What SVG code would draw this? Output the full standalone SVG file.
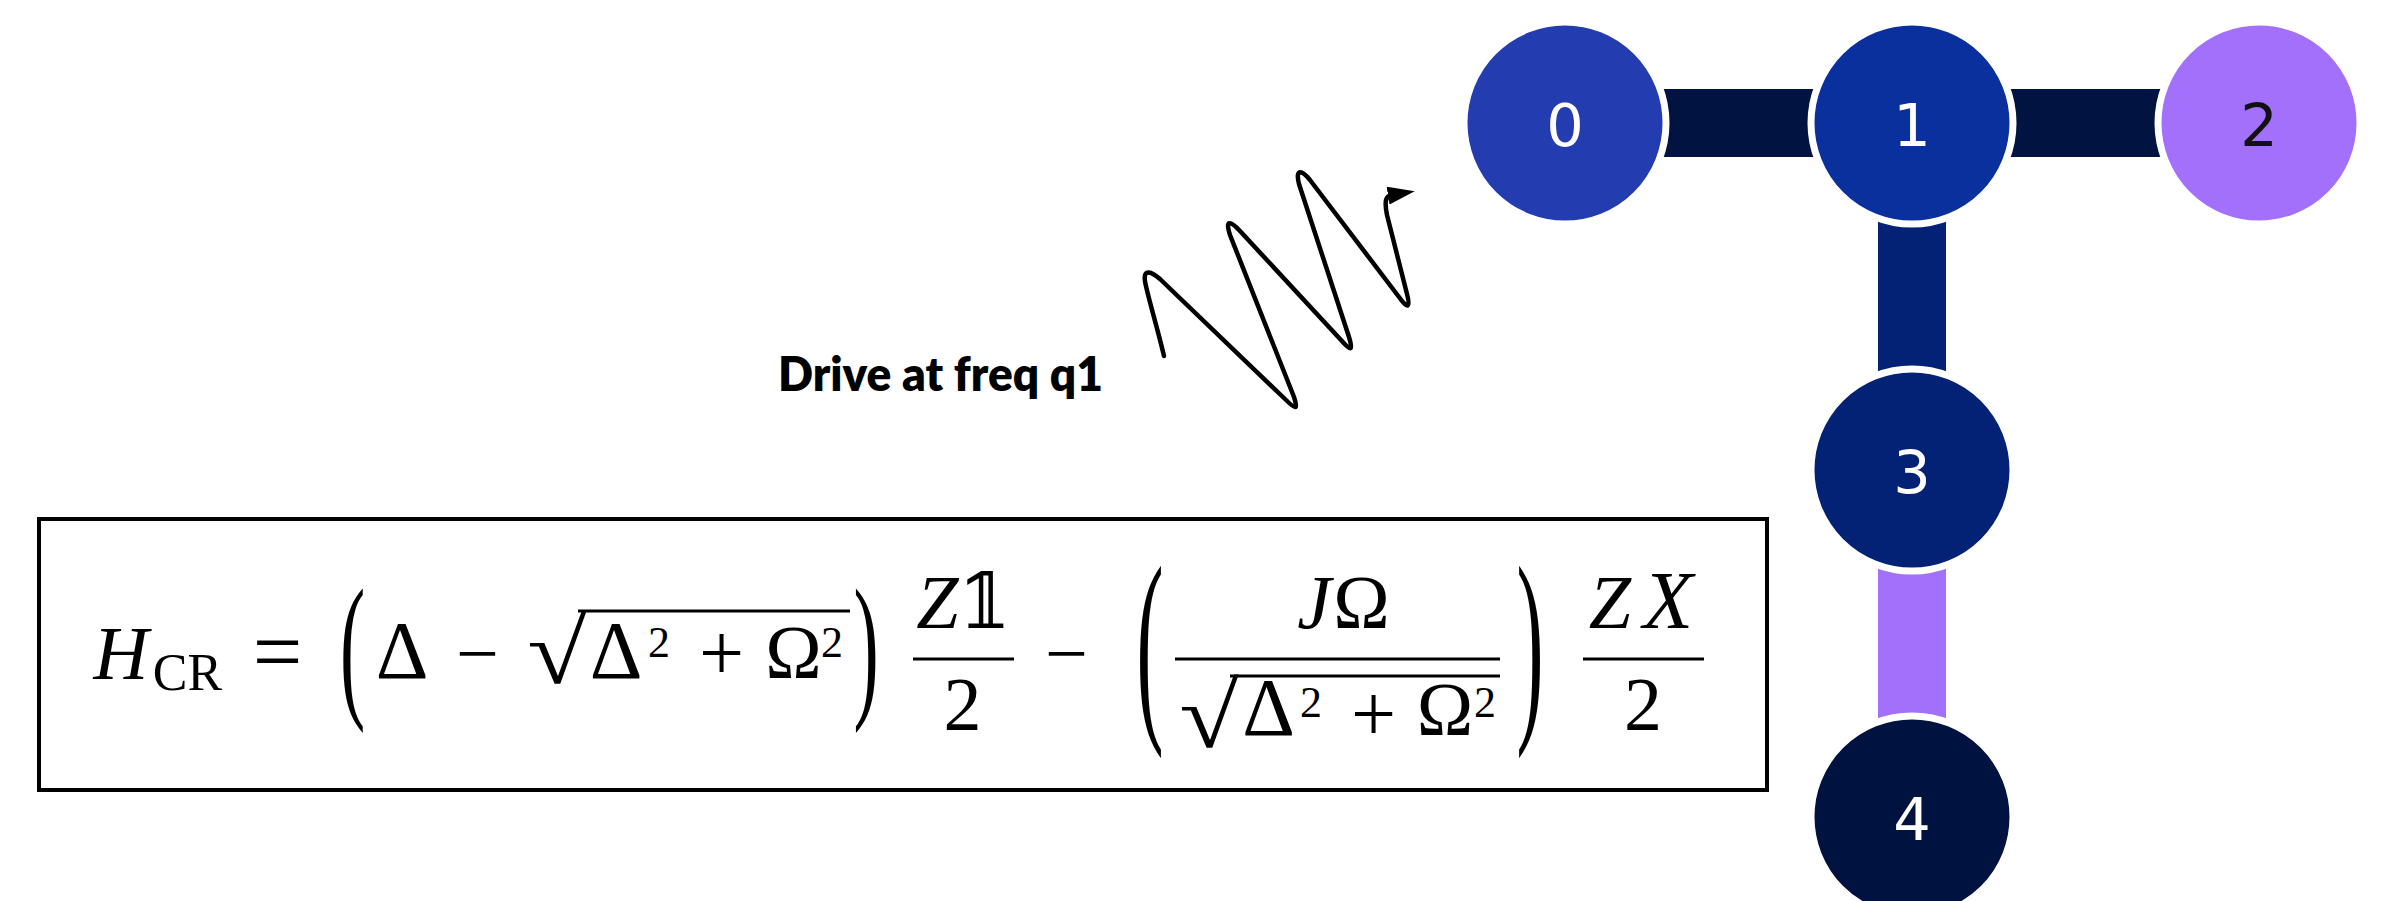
<svg xmlns="http://www.w3.org/2000/svg" width="2381" height="901" viewBox="0 0 2381 901">
  <style>
    .m { font-family: "Liberation Serif", "DejaVu Serif", serif; font-size: 76px; text-anchor: middle; fill: #000; }
    .i { font-style: italic; }
    .sup { font-size: 44px; }
    .sub { font-size: 52px; }
    .par { font-size: 56px; }
    .rad { font-size: 92px; }
    .bar { stroke: #000; stroke-width: 3; }
    .node { stroke: #fff; stroke-width: 7; }
    .lbl { font-family: "DejaVu Sans", "Liberation Sans", sans-serif; font-size: 59px; text-anchor: middle; fill: #fff; }
    .edge { stroke-width: 68; fill: none; }
  </style>
  <defs>
    <marker id="arrow" markerUnits="userSpaceOnUse" markerWidth="32" markerHeight="22" refX="4" refY="9" orient="auto">
      <path d="M0,0 L27,9 L0,18 Z" fill="#000"/>
    </marker>
  </defs>
  <rect width="2381" height="901" fill="#fff"/>

  <g id="connectors">
    <line class="edge" x1="1565" y1="123" x2="1912" y2="123" stroke="#001341"/>
    <line class="edge" x1="1912" y1="123" x2="2259" y2="123" stroke="#001341"/>
    <line class="edge" x1="1912" y1="123" x2="1912" y2="470" stroke="#032276"/>
    <line class="edge" x1="1912" y1="470" x2="1912" y2="817" stroke="#A270FA"/>
  </g>

  <g id="node-0">
    <circle class="node" cx="1565" cy="123" r="101" fill="#233CAF"/>
    <text class="lbl" x="1565" y="146">0</text>
  </g>
  <g id="node-1">
    <circle class="node" cx="1912" cy="123" r="101" fill="#0A309E"/>
    <text class="lbl" x="1912" y="146">1</text>
  </g>
  <g id="node-2">
    <circle class="node" cx="2259" cy="123" r="101" fill="#A270FA"/>
    <text class="lbl" x="2259" y="146" style="fill:#111">2</text>
  </g>
  <g id="node-3">
    <circle class="node" cx="1912" cy="470" r="101" fill="#032276"/>
    <text class="lbl" x="1912" y="493">3</text>
  </g>
  <g id="node-4">
    <circle class="node" cx="1912" cy="817" r="101" fill="#001340"/>
    <text class="lbl" x="1912" y="840">4</text>
  </g>

  <g id="drive">
    <text x="778" y="391" font-family="Lato, 'Liberation Sans', sans-serif" font-weight="800" font-size="48" textLength="325" lengthAdjust="spacingAndGlyphs">Drive at freq q1</text>
    <path d="M1164,356 C1158,330 1146,290 1145,281 C1143,268 1152,272 1160,279 L1285,399 C1296,410 1298,410 1294,397 L1230,235 C1225,220 1230,220 1240,231 L1341,340 C1352,353 1353,350 1349,337 L1299,184 C1295,168 1302,170 1310,180 L1399,297 C1409,311 1410,306 1407,294 L1387,215 C1384,200 1386,196 1392,195" fill="none" stroke="#000" stroke-width="4.5" stroke-linejoin="round" stroke-linecap="round" marker-end="url(#arrow)"/>
  </g>

  <g id="equation">
    <rect x="39" y="519" width="1728" height="271" fill="none" stroke="#000" stroke-width="4"/>
    <text class="m i" x="121" y="679">H</text>
    <text class="m sub" x="187.5" y="690">CR</text>
    <text class="m" x="277.5" y="681" style="font-size:88px">=</text>
    <g transform="translate(352.5,699) scale(1.35,2.834)"><text class="m par" x="0" y="0">(</text></g>
    <text class="m" x="402" y="678" style="font-size:82px">Δ</text>
    <text class="m" x="477.5" y="679">−</text>
    <g transform="translate(557,683) scale(1.18,1)"><text class="m rad" x="0" y="0">√</text></g>
    <line class="bar" x1="578" y1="611" x2="850" y2="611"/>
    <text class="m" x="616" y="678" style="font-size:82px">Δ</text>
    <text class="m sup" x="659" y="657">2</text>
    <text class="m" x="721.5" y="680" style="font-size:80px">+</text>
    <text class="m" x="793.5" y="678">Ω</text>
    <text class="m sup" x="832" y="657">2</text>
    <g transform="translate(866,699) scale(1.35,2.834)"><text class="m par" x="0" y="0">)</text></g>

    <text class="m i" x="937.5" y="628">Z</text>
    <text class="m" x="984.5" y="628" style="font-family:'DejaVu Serif','DejaVu Sans',serif">𝟙</text>
    <line class="bar" x1="913" y1="659" x2="1014" y2="659"/>
    <text class="m" x="962.5" y="730">2</text>

    <text class="m" x="1066.5" y="679">−</text>
    <g transform="translate(1150,712.6) scale(1.45,3.768)"><text class="m par" x="0" y="0">(</text></g>
    <text class="m i" x="1314" y="628">J</text>
    <text class="m" x="1361.5" y="628">Ω</text>
    <line class="bar" x1="1175" y1="659" x2="1500" y2="659"/>
    <g transform="translate(1209,747) scale(1.18,1)"><text class="m rad" x="0" y="0">√</text></g>
    <line class="bar" x1="1230" y1="676" x2="1500" y2="676"/>
    <text class="m" x="1268.5" y="735" style="font-size:82px">Δ</text>
    <text class="m sup" x="1311" y="717">2</text>
    <text class="m" x="1373.5" y="741" style="font-size:80px">+</text>
    <text class="m" x="1445" y="735">Ω</text>
    <text class="m sup" x="1485" y="717">2</text>
    <g transform="translate(1530,712.6) scale(1.45,3.768)"><text class="m par" x="0" y="0">)</text></g>

    <text class="m i" x="1610" y="628">Z</text>
    <text class="m i" x="1668" y="628" style="font-size:82px">X</text>
    <line class="bar" x1="1583" y1="659" x2="1704" y2="659"/>
    <text class="m" x="1643" y="730">2</text>
  </g>
</svg>
